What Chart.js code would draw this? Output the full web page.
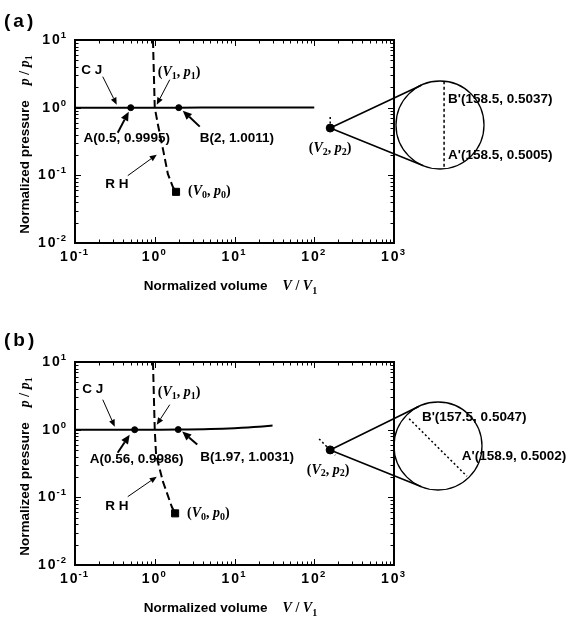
<!DOCTYPE html>
<html>
<head>
<meta charset="utf-8">
<title>Normalized p-V diagrams</title>
<script src="https://cdn.jsdelivr.net/npm/chart.js@4.4.1/dist/chart.umd.min.js"></script>
<style>
  html, body { margin: 0; padding: 0; background: #fff; }
  canvas { display: block; }
</style>
</head>
<body>
<canvas id="panelA" width="576" height="311"></canvas>
<canvas id="panelB" width="576" height="311"></canvas>
<script>
// log axes: decades
const volumeDecades = [0.1, 1, 10, 100, 1000];
const pressureDecades = [0.01, 0.1, 1, 10];
// reference state (V1, p1) after normalisation
const refState = [1, 1];

// ---- panel (a) ----
const cjVolumeA = [0.1, 0.5, 1, 2, 10, 100];
const cjPressureA = [0.999, 0.9995, 1, 1.0011, 1.003, 1.006];
const rhVolumeA = [0.95, 1, 1.1, 1.29, 1.46, 1.69, 1.85];
const rhPressureA = [10, 1, 0.55, 0.22, 0.105, 0.067, 0.057];
const markNamesA = ['A', 'B'];
const markVolumeA = [0.5, 2];
const markPressureA = [0.9995, 1.0011];
const state0A = [1.85, 0.057];
const state2A = [158.5, 0.5];
const trace2VolumeA = [158.5, 158.5];
const trace2PressureA = [0.5, 0.78];
const zoomNamesA = ["B'", "A'"];
const zoomVolumeA = [158.5, 158.5];
const zoomPressureA = [0.5037, 0.5005];
const zoomLineVolumeA = [158.5, 158.5];
const zoomLinePressureA = [0.5068, 0.4978];

// ---- panel (b) ----
const cjVolumeB = [0.1, 0.56, 1, 1.97, 5, 10, 20, 30];
const cjPressureB = [0.998, 0.9986, 1, 1.0031, 1.02, 1.05, 1.1, 1.15];
const rhVolumeB = [0.95, 1, 1.04, 1.27, 1.64, 1.8];
const rhPressureB = [10, 1, 0.42, 0.169, 0.072, 0.058];
const markNamesB = ['A', 'B'];
const markVolumeB = [0.56, 1.97];
const markPressureB = [0.9986, 1.0031];
const state0B = [1.8, 0.058];
const state2B = [158.2, 0.502];
const trace2VolumeB = [115, 183];
const trace2PressureB = [0.73, 0.42];
const zoomNamesB = ["B'", "A'"];
const zoomVolumeB = [157.5, 158.9];
const zoomPressureB = [0.5047, 0.5002];
const zoomLineVolumeB = [157.38, 159.22];
const zoomLinePressureB = [0.5051, 0.4992];

const SANS = '"Liberation Sans", Arial, Helvetica, sans-serif';
const SERIF = '"Liberation Serif", "Times New Roman", Times, serif';
const F = {
  note: 'bold 13.5px ' + SANS,
  title: 'bold 13.5px ' + SANS,
  base: 'bold 14px ' + SANS,
  sup: 'bold 9.5px ' + SANS,
  panel: 'bold 19px ' + SANS,
  it: 'italic bold 14px ' + SERIF,
  rm: 'bold 14px ' + SERIF,
  sub: 'bold 10px ' + SERIF
};

function pts(xs, ys) { return xs.map((x, i) => ({ x: x, y: ys[i] })); }
function valueLabel(name, v, p) { return name + '(' + v + ', ' + p + ')'; }
function pair(sym, idx) {
  return [['(', F.rm], [sym, F.it], [idx, F.sub, 4], [', ', F.rm], ['p', F.it], [idx, F.sub, 4], [')', F.rm]];
}
function minorTicks(decades) {
  const out = [];
  for (let i = 0; i < decades.length - 1; i++)
    for (let k = 2; k <= 9; k++) out.push(decades[i] * k);
  return out;
}

function drawRich(ctx, parts, x, y, align) {
  let w = 0;
  parts.forEach(([t, f]) => { ctx.font = f; w += ctx.measureText(t).width; });
  let cx = align === 'center' ? x - w / 2 : align === 'right' ? x - w : x;
  ctx.textAlign = 'left';
  parts.forEach(([t, f, dy]) => {
    ctx.font = f;
    ctx.fillText(t, cx, y + (dy || 0));
    cx += ctx.measureText(t).width;
  });
}

function arrow(ctx, x1, y1, x2, y2, lw) {
  const head = lw > 1.5 ? 9 : 7, half = lw > 1.5 ? 4 : 3;
  const ang = Math.atan2(y2 - y1, x2 - x1);
  const bx = x2 - head * Math.cos(ang), by = y2 - head * Math.sin(ang);
  ctx.lineWidth = lw;
  ctx.beginPath(); ctx.moveTo(x1, y1); ctx.lineTo(bx, by); ctx.stroke();
  ctx.beginPath();
  ctx.moveTo(x2, y2);
  ctx.lineTo(bx + half * Math.sin(ang), by - half * Math.cos(ang));
  ctx.lineTo(bx - half * Math.sin(ang), by + half * Math.cos(ang));
  ctx.closePath(); ctx.fill();
}

// "10" with a raised exponent
function drawPower(ctx, exp, x, y, align) {
  ctx.font = F.base; ctx.letterSpacing = '2px';
  const wBase = ctx.measureText('10').width;
  ctx.font = F.sup; ctx.letterSpacing = '1px';
  const sup = String(exp);
  const wSup = ctx.measureText(sup).width;
  const total = wBase + wSup;
  const x0 = align === 'right' ? x - total : x - total / 2;
  ctx.textAlign = 'left';
  ctx.font = F.base; ctx.letterSpacing = '2px';
  ctx.fillText('10', x0, y);
  ctx.font = F.sup; ctx.letterSpacing = '1px';
  ctx.fillText(sup, x0 + wBase - 1, y - 6);
  ctx.letterSpacing = '0px';
}

function decorPlugin(cfg) {
  return {
    id: 'decor',
    beforeDatasetsDraw(chart) {
      // magnifier circle and its tangent lines back to state 2
      const { ctx, scales } = chart;
      const z = cfg.zoom;
      const cx = scales.ix.getPixelForValue(z.vCenter);
      const cy = scales.iy.getPixelForValue(z.pCenter);
      const px = scales.x.getPixelForValue(cfg.state2[0]);
      const py = scales.y.getPixelForValue(cfg.state2[1]);
      ctx.save();
      ctx.strokeStyle = '#000';
      ctx.lineWidth = 1.3;
      ctx.beginPath(); ctx.arc(cx, cy, z.r, 0, Math.PI * 2); ctx.stroke();
      const d = Math.hypot(cx - px, cy - py);
      const base = Math.atan2(cy - py, cx - px);
      const off = Math.asin(z.r / d), len = Math.sqrt(d * d - z.r * z.r);
      ctx.lineWidth = 1.6;
      ctx.beginPath();
      [-1, 1].forEach(s => {
        ctx.moveTo(px, py);
        ctx.lineTo(px + len * Math.cos(base + s * off), py + len * Math.sin(base + s * off));
      });
      ctx.stroke();
      ctx.restore();
    },
    afterDraw(chart) {
      const { ctx, chartArea: a, scales } = chart;
      const X = scales.x, Y = scales.y, IX = scales.ix, IY = scales.iy;
      ctx.save();
      ctx.strokeStyle = '#000';
      ctx.fillStyle = '#000';

      // frame
      ctx.lineWidth = 2;
      ctx.strokeRect(a.left, a.top, a.right - a.left, a.bottom - a.top);

      // inward ticks on all four sides
      ctx.lineWidth = 1;
      ctx.beginPath();
      const xTicks = (vals, len) => vals.forEach(v => {
        const x = Math.round(X.getPixelForValue(v)) + 0.5;
        ctx.moveTo(x, a.bottom); ctx.lineTo(x, a.bottom - len);
        ctx.moveTo(x, a.top); ctx.lineTo(x, a.top + len);
      });
      const yTicks = (vals, len) => vals.forEach(v => {
        const y = Math.round(Y.getPixelForValue(v)) + 0.5;
        ctx.moveTo(a.left, y); ctx.lineTo(a.left + len, y);
        ctx.moveTo(a.right, y); ctx.lineTo(a.right - len, y);
      });
      xTicks(volumeDecades, 6); xTicks(minorTicks(volumeDecades), 3.5);
      yTicks(pressureDecades, 6); yTicks(minorTicks(pressureDecades), 3.5);
      ctx.stroke();

      // tick labels
      ctx.textBaseline = 'alphabetic';
      volumeDecades.forEach(v => drawPower(ctx, Math.round(Math.log10(v)), X.getPixelForValue(v), a.bottom + 18, 'center'));
      pressureDecades.forEach(p => drawPower(ctx, Math.round(Math.log10(p)), a.left - 7, Y.getPixelForValue(p) + 4, 'right'));

      // axis titles
      drawRich(ctx, [['Normalized volume', F.title], ['    ', F.title], ['V', F.it], [' / ', F.rm], ['V', F.it], ['1', F.sub, 4]],
        (a.left + a.right) / 2 - 4, a.bottom + 47, 'center');
      ctx.save();
      ctx.translate(25, (a.top + a.bottom) / 2 + 3);
      ctx.rotate(-Math.PI / 2);
      ctx.textBaseline = 'middle';
      drawRich(ctx, [['Normalized pressure', F.title], ['    ', F.title], ['p', F.it], [' / ', F.rm], ['p', F.it], ['1', F.sub, 4]], 0, 0, 'center');
      ctx.restore();

      // annotations anchored to the states they describe
      const anchors = {
        v1: [X.getPixelForValue(refState[0]), Y.getPixelForValue(refState[1])],
        A: [X.getPixelForValue(cfg.markV[0]), Y.getPixelForValue(cfg.markP[0])],
        B: [X.getPixelForValue(cfg.markV[1]), Y.getPixelForValue(cfg.markP[1])],
        v0: [X.getPixelForValue(cfg.state0[0]), Y.getPixelForValue(cfg.state0[1])],
        v2: [X.getPixelForValue(cfg.state2[0]), Y.getPixelForValue(cfg.state2[1])],
        Bz: [IX.getPixelForValue(cfg.zoomV[0]), IY.getPixelForValue(cfg.zoomP[0])],
        Az: [IX.getPixelForValue(cfg.zoomV[1]), IY.getPixelForValue(cfg.zoomP[1])]
      };
      ctx.textBaseline = 'middle';
      cfg.notes.forEach(n => {
        const [ax, ay] = anchors[n.at];
        drawRich(ctx, n.parts, ax + n.dx, ay + n.dy, n.align);
        if (n.arrow) arrow(ctx, ax + n.arrow[0], ay + n.arrow[1], ax + n.arrow[2], ay + n.arrow[3], n.lw);
      });

      // panel letter
      ctx.font = F.panel; ctx.letterSpacing = '3px';
      ctx.textAlign = 'left';
      ctx.fillText(cfg.letter, 4, cfg.letterY);
      ctx.letterSpacing = '0px';
      ctx.restore();
    }
  };
}

function makePanel(canvasId, cfg) {
  const a = cfg.area, z = cfg.zoom;
  const W = 576, H = 311;
  // linear inset axes: magnified around the circle centre
  const ixMin = z.vCenter - (z.cx - a.left) / z.pxPerV;
  const ixMax = ixMin + (a.right - a.left) / z.pxPerV;
  const iyMin = z.pCenter - (a.bottom - z.cy) / z.pxPerP;
  const iyMax = iyMin + (a.bottom - a.top) / z.pxPerP;

  const black = '#000';
  new Chart(document.getElementById(canvasId), {
    type: 'scatter',
    data: {
      datasets: [
        { label: 'CJ', data: pts(cfg.cjV, cfg.cjP), showLine: true, borderColor: black, borderWidth: 2,
          pointRadius: 0, cubicInterpolationMode: 'monotone' },
        { label: 'RH', data: pts(cfg.rhV, cfg.rhP), showLine: true, borderColor: black, borderWidth: 2,
          borderDash: [8, 4], pointRadius: 0 },
        { label: 'state 2 trace', data: pts(cfg.trV, cfg.trP), showLine: true, borderColor: black, borderWidth: 1.5,
          borderDash: [2, 2.5], pointRadius: 0 },
        { label: 'A, B', data: pts(cfg.markV, cfg.markP), pointRadius: 3, borderWidth: 1,
          backgroundColor: black, borderColor: black },
        { label: 'state 0', data: [{ x: cfg.state0[0], y: cfg.state0[1] }], pointStyle: 'rect', pointRadius: 5,
          borderWidth: 1, backgroundColor: black, borderColor: black },
        { label: 'state 2', data: [{ x: cfg.state2[0], y: cfg.state2[1] }], pointRadius: 4, borderWidth: 1,
          backgroundColor: black, borderColor: black },
        { label: 'inset line', data: pts(cfg.zoomLineV, cfg.zoomLineP), xAxisID: 'ix', yAxisID: 'iy', clip: false,
          showLine: true, borderColor: black, borderWidth: 1.5, borderDash: cfg.insetDash, pointRadius: 0 },
        { label: "A', B'", data: pts(cfg.zoomV, cfg.zoomP), xAxisID: 'ix', yAxisID: 'iy', clip: false,
          pointRadius: 4, borderWidth: 1, backgroundColor: black, borderColor: black }
      ]
    },
    options: {
      responsive: false,
      animation: false,
      events: [],
      layout: { padding: { left: a.left, top: a.top, right: W - a.right, bottom: H - a.bottom } },
      plugins: { legend: { display: false }, tooltip: { enabled: false } },
      scales: {
        x: { type: 'logarithmic', min: volumeDecades[0], max: volumeDecades[volumeDecades.length - 1], display: false },
        y: { type: 'logarithmic', min: pressureDecades[0], max: pressureDecades[pressureDecades.length - 1], display: false },
        ix: { type: 'linear', axis: 'x', position: 'bottom', min: ixMin, max: ixMax, display: false },
        iy: { type: 'linear', axis: 'y', position: 'left', min: iyMin, max: iyMax, display: false }
      }
    },
    plugins: [decorPlugin(cfg)]
  });
}

const bold = t => [[t, F.note]];

makePanel('panelA', {
  letter: '(a)', letterY: 22,
  area: { left: 75, right: 394, top: 40, bottom: 243 },
  zoom: { cx: 440, cy: 125, r: 44, vCenter: 158.37, pCenter: 0.5023, pxPerV: 31.4, pxPerP: 9750 },
  insetDash: [3, 2.5],
  cjV: cjVolumeA, cjP: cjPressureA, rhV: rhVolumeA, rhP: rhPressureA,
  markV: markVolumeA, markP: markPressureA, state0: state0A, state2: state2A,
  trV: trace2VolumeA, trP: trace2PressureA,
  zoomV: zoomVolumeA, zoomP: zoomPressureA, zoomLineV: zoomLineVolumeA, zoomLineP: zoomLinePressureA,
  notes: [
    { at: 'v1', parts: bold('C J'), dx: -63, dy: -37, align: 'center', arrow: [-52, -31, -38, -3], lw: 1 },
    { at: 'v1', parts: pair('V', '1'), dx: 3, dy: -35, align: 'left', arrow: [15, -28, 2, -3], lw: 1 },
    { at: 'A', parts: bold(valueLabel(markNamesA[0], markVolumeA[0], markPressureA[0])), dx: -4, dy: 31, align: 'center', arrow: [-13, 25, -2, 4], lw: 2 },
    { at: 'B', parts: bold(valueLabel(markNamesA[1], markVolumeA[1], markPressureA[1])), dx: 21, dy: 31, align: 'left', arrow: [21, 19, 4, 3], lw: 2 },
    { at: 'v1', parts: bold('R H'), dx: -38, dy: 77, align: 'center', arrow: [-27, 68, 2, 47], lw: 1 },
    { at: 'v0', parts: pair('V', '0'), dx: 12, dy: 0, align: 'left' },
    { at: 'v2', parts: pair('V', '2'), dx: 0, dy: 20, align: 'center' },
    { at: 'Bz', parts: bold(valueLabel(zoomNamesA[0], zoomVolumeA[0], zoomPressureA[0])), dx: 4, dy: -12, align: 'left' },
    { at: 'Az', parts: bold(valueLabel(zoomNamesA[1], zoomVolumeA[1], zoomPressureA[1])), dx: 4, dy: 13, align: 'left' }
  ]
});

makePanel('panelB', {
  letter: '(b)', letterY: 30,
  area: { left: 75, right: 394, top: 51, bottom: 254 },
  zoom: { cx: 438, cy: 135, r: 44, vCenter: 158.3, pCenter: 0.5023, pxPerV: 31.4, pxPerP: 9750 },
  insetDash: [2, 2.5],
  cjV: cjVolumeB, cjP: cjPressureB, rhV: rhVolumeB, rhP: rhPressureB,
  markV: markVolumeB, markP: markPressureB, state0: state0B, state2: state2B,
  trV: trace2VolumeB, trP: trace2PressureB,
  zoomV: zoomVolumeB, zoomP: zoomPressureB, zoomLineV: zoomLineVolumeB, zoomLineP: zoomLinePressureB,
  notes: [
    { at: 'v1', parts: bold('C J'), dx: -62, dy: -40, align: 'center', arrow: [-52, -30, -40, -3], lw: 1 },
    { at: 'v1', parts: pair('V', '1'), dx: 3, dy: -37, align: 'left', arrow: [15, -25, 2, -5], lw: 1 },
    { at: 'A', parts: bold(valueLabel(markNamesB[0], markVolumeB[0], markPressureB[0])), dx: 2, dy: 30, align: 'center', arrow: [-17, 23, -5, 5], lw: 2 },
    { at: 'B', parts: bold(valueLabel(markNamesB[1], markVolumeB[1], markPressureB[1])), dx: 22, dy: 28, align: 'left', arrow: [19, 15, 4, 2], lw: 2 },
    { at: 'v1', parts: bold('R H'), dx: -38, dy: 77, align: 'center', arrow: [-27, 67, 2, 47], lw: 1 },
    { at: 'v0', parts: pair('V', '0'), dx: 12, dy: 0, align: 'left' },
    { at: 'v2', parts: pair('V', '2'), dx: -2, dy: 20, align: 'center' },
    { at: 'Bz', parts: bold(valueLabel(zoomNamesB[0], zoomVolumeB[0], zoomPressureB[0])), dx: 9, dy: -5, align: 'left' },
    { at: 'Az', parts: bold(valueLabel(zoomNamesB[1], zoomVolumeB[1], zoomPressureB[1])), dx: 5, dy: -10, align: 'left' }
  ]
});
</script>
</body>
</html>
